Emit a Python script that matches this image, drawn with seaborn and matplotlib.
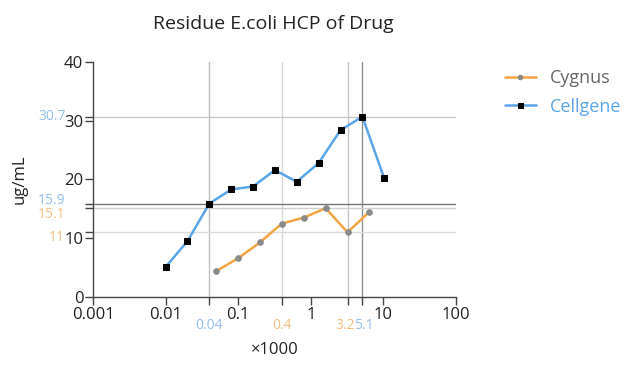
import matplotlib
matplotlib.use("Agg")
import matplotlib.pyplot as plt
import matplotlib.transforms as mtransforms
import seaborn as sns
import pandas as pd

cyg_x = [0.05, 0.1, 0.2, 0.4, 0.8, 1.6, 3.2, 6.4]
cyg_y = [4.4, 6.6, 9.3, 12.5, 13.5, 15.1, 11.0, 14.5]
cel_x = [0.01, 0.02, 0.04, 0.08, 0.16, 0.32, 0.64, 1.28, 2.56, 5.12, 10.24]
cel_y = [5.1, 9.5, 15.9, 18.3, 18.8, 21.6, 19.6, 22.8, 28.4, 30.7, 20.2]

ref_x_cel = [0.04, 5.1]
ref_x_cyg = [0.4, 3.2]
ref_y_cel = [30.7, 15.9]
ref_y_cyg = [15.1, 11]

xticks = [0.001, 0.01, 0.1, 1, 10, 100]
xticklabels = ["0.001", "0.01", "0.1", "1", "10", "100"]
yticks = [0, 10, 20, 30, 40]

sns.set_theme(style="white")
plt.rcParams['font.family'] = ['Open Sans', 'DejaVu Sans']

fig = plt.figure(figsize=(6.37, 3.67), dpi=100)
ax = fig.add_axes([0.146, 0.191, 0.570, 0.640])

ORANGE = "#F4A443"
BLUE = "#5AA5E8"
LBLUE = "#92C0EC"
LORANGE = "#F6BE82"

df_cyg = pd.DataFrame({"x": cyg_x, "y": cyg_y})
df_cel = pd.DataFrame({"x": cel_x, "y": cel_y})

# reference lines
ax.axvline(0.04, color="#bdbdbd", lw=1.0, zorder=1)
ax.axvline(0.4, color="#dadada", lw=1.0, zorder=1)
ax.axvline(3.2, color="#c4c4c4", lw=1.0, zorder=1)
ax.axvline(5.1, color="#8f8f8f", lw=1.0, zorder=1)
ax.axhline(30.7, color="#c8c8c8", lw=1.0, zorder=1)
ax.axhline(15.9, color="#777777", lw=1.0, zorder=1)
ax.axhline(15.1, color="#cfcfcf", lw=1.0, zorder=1)
ax.axhline(11, color="#dcdcdc", lw=1.0, zorder=1)

sns.lineplot(data=df_cyg, x="x", y="y", ax=ax, color=ORANGE, lw=1.8,
             marker="o", markersize=4, markerfacecolor="#8a8a8a",
             markeredgecolor="#8a8a8a", label="Cygnus", zorder=3)
sns.lineplot(data=df_cel, x="x", y="y", ax=ax, color=BLUE, lw=1.8,
             marker="s", markersize=4.5, markerfacecolor="black",
             markeredgecolor="black", label="Cellgene", zorder=4)

ax.set_xscale("log")
ax.set_xlim(0.001, 100)
ax.set_ylim(0, 40)
ax.set_xticks(xticks + ref_x_cel + ref_x_cyg)
ax.set_xticklabels(xticklabels + [""] * 4, fontsize=12, color="#222222")
ax.minorticks_off()
ax.set_yticks(yticks + ref_y_cel + ref_y_cyg)
ax.set_yticklabels([str(v) for v in yticks] + [""] * 4, fontsize=12, color="#222222")
ax.tick_params(axis="both", direction="out", length=6, width=1, color="#444444",
               bottom=True, left=True, pad=1)
for s in ["top", "right"]:
    ax.spines[s].set_visible(False)
for s in ["left", "bottom"]:
    ax.spines[s].set_color("#444444")
    ax.spines[s].set_linewidth(1)

# reference labels
trans_x = ax.get_xaxis_transform()
for v, lab in zip([0.04, 0.4, 3.2, 5.1], ["0.04", "0.4", "3.2", "5.1"]):
    col = LBLUE if v in ref_x_cel else LORANGE
    dx = {0.04: 0, 0.4: 0, 3.2: -2, 5.1: 2}[v]
    tr = trans_x + mtransforms.ScaledTranslation(dx / 100, 0, fig.dpi_scale_trans)
    ax.text(v, -0.12, lab, transform=tr, ha="center", va="center", fontsize=10,
            color=col)
trans_y = ax.get_yaxis_transform()
for v, lab in zip([30.7, 15.9, 15.1, 11], ["30.7", "15.9", "15.1", "11"]):
    col = LBLUE if v in ref_y_cel else LORANGE
    dy = {30.7: 0.0, 15.9: 0.6, 15.1: -1.0, 11: -0.8}[v]
    xo = {30.7: -0.074, 15.9: -0.077, 15.1: -0.077, 11: -0.077}[v]
    ax.text(xo, v + dy, lab, transform=trans_y,
            ha="right", va="center", fontsize=10, color=col)

ax.set_xlabel("×1000", fontsize=12, color="#222222", labelpad=14)
ax.set_ylabel("ug/mL", fontsize=12, color="#222222")
ax.yaxis.set_label_coords(-0.18, 0.5)
fig.text(0.429, 0.935, "Residue E.coli HCP of Drug", ha="center", va="center",
         fontsize=14, color="#222222")

leg = ax.legend(loc="upper left", bbox_to_anchor=(1.09, 1.04), frameon=False,
                fontsize=13, handlelength=1.7, labelspacing=0.6, markerscale=0.8)
leg.get_texts()[0].set_color("#666666")
leg.get_texts()[1].set_color(BLUE)

fig.savefig("out.png", dpi=100)
